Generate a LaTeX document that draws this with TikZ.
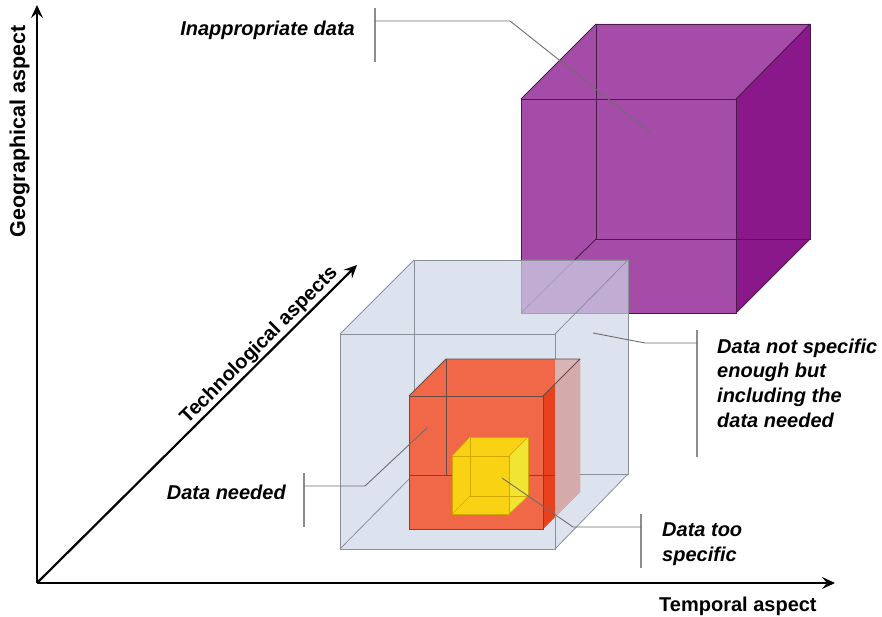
\documentclass[tikz,border=0pt]{standalone}
\usepackage{fontspec}
\setmainfont{Liberation Sans}
\usetikzlibrary{arrows.meta}
\definecolor{purpF}{HTML}{A54CA8}
\definecolor{purpS}{HTML}{8A188A}
\definecolor{purpE}{HTML}{4A1A4A}
\definecolor{blueF}{RGB}{205,215,231}
\definecolor{blueE}{HTML}{8A9098}
\definecolor{orF}{HTML}{F06848}
\definecolor{orS}{HTML}{E8411E}
\definecolor{orE}{HTML}{6A4A40}
\definecolor{yeF}{HTML}{FAD214}
\definecolor{yeS}{HTML}{F2E432}
\definecolor{yeE}{HTML}{D0A800}
\definecolor{calloutc}{HTML}{6E6E6E}
\definecolor{barc}{HTML}{8C8C8C}
\tikzset{
  axisline/.style={line width=2.2pt, -{Stealth[length=13pt,width=12pt,inset=5pt]}},
  lbl/.style={inner sep=0pt, font=\fontsize{20}{24.7}\selectfont\bfseries\itshape},
  axlbl/.style={inner sep=0pt, font=\fontsize{20}{24}\selectfont\bfseries},
  callout/.style={draw=calloutc, line width=0.9pt},
  calbar/.style={draw=barc, line width=1.4pt},
  pedge/.style={draw=purpE, line width=0.9pt},
  bedge/.style={draw=blueE, line width=0.8pt},
  oedge/.style={draw=orE, line width=0.8pt},
  yedge/.style={draw=yeE, line width=0.6pt},
}
\begin{document}
\begin{tikzpicture}[x=1pt,y=-1pt]
\useasboundingbox (0,0) rectangle (882,617);

% ---------- purple cube ----------
\coordinate (pfTL) at (521,99);  \coordinate (pfTR) at (736,99);
\coordinate (pfBR) at (736,313); \coordinate (pfBL) at (521,313);
\coordinate (pbTL) at (596,24);  \coordinate (pbTR) at (810,24);
\coordinate (pbBR) at (810,239); \coordinate (pbBL) at (596,239);
\fill[purpF] (pfTL) -- (pfTR) -- (pfBR) -- (pfBL) -- cycle;
\fill[purpF] (pfTL) -- (pbTL) -- (pbTR) -- (pfTR) -- cycle;
\fill[purpS] (pfTR) -- (pbTR) -- (pbBR) -- (pfBR) -- cycle;
\draw[pedge] (pfTL) -- (pfTR) -- (pfBR) -- (pfBL) -- cycle;
\draw[pedge] (pbTL) -- (pbTR) -- (pbBR) -- (pbBL) -- cycle;
\draw[pedge] (pfTL) -- (pbTL) (pfTR) -- (pbTR) (pfBR) -- (pbBR) (pfBL) -- (pbBL);

% ---------- light blue cube ----------
\coordinate (lfTL) at (340,334); \coordinate (lfTR) at (555,334);
\coordinate (lfBR) at (555,549); \coordinate (lfBL) at (340,549);
\coordinate (lbTL) at (414,260); \coordinate (lbTR) at (628,260);
\coordinate (lbBR) at (628,474); \coordinate (lbBL) at (414,474);
\fill[blueF, fill opacity=0.7] (lfBL) -- (lfTL) -- (lbTL) -- (lbTR) -- (lbBR) -- (lfBR) -- cycle;
\draw[bedge] (lfTL) -- (lfTR) -- (lfBR) -- (lfBL) -- cycle;
\draw[bedge] (lbTL) -- (lbTR) -- (lbBR) -- (lbBL) -- cycle;
\draw[bedge] (lfTL) -- (lbTL) (lfTR) -- (lbTR) (lfBR) -- (lbBR) (lfBL) -- (lbBL);

% ---------- orange cube ----------
\coordinate (ofTL) at (409,396); \coordinate (ofTR) at (543,396);
\coordinate (ofBR) at (543,529); \coordinate (ofBL) at (409,529);
\coordinate (obTL) at (446,359); \coordinate (obTR) at (580,359);
\coordinate (obBR) at (580,492); \coordinate (obBL) at (446,475);
\coordinate (ohL) at (409,475);  \coordinate (ohR) at (555,475);
\fill[orF] (ofTL) -- (ofTR) -- (ofBR) -- (ofBL) -- cycle;
\fill[orF] (ofTL) -- (obTL) -- (obTR) -- (ofTR) -- cycle;
\fill[orS] (ofTR) -- (obTR) -- (obBR) -- (ofBR) -- cycle;
\begin{scope}
  \clip (lfTR) -- (lbTR) -- (lbBR) -- (lfBR) -- cycle;
  \fill[blueF, fill opacity=0.7] (ofBL) -- (ofTL) -- (obTL) -- (obTR) -- (obBR) -- (ofBR) -- cycle;
\end{scope}
\draw[oedge] (ofTL) -- (ofTR) -- (ofBR) -- (ofBL) -- cycle;
\draw[oedge] (ofTL) -- (obTL) -- (obTR) (ofTR) -- (obTR);
\draw[oedge] (obTL) -- (obBL);
\draw[oedge] (ohL) -- (ohR);

% ---------- yellow cube ----------
\coordinate (yfTL) at (452,456); \coordinate (yfTR) at (509,456);
\coordinate (yfBR) at (509,514); \coordinate (yfBL) at (452,514);
\coordinate (ybTL) at (470,437); \coordinate (ybTR) at (528,437);
\coordinate (ybBR) at (528,496); \coordinate (ybBL) at (470,496);
\fill[yeF] (yfTL) -- (yfTR) -- (yfBR) -- (yfBL) -- cycle;
\fill[yeF] (yfTL) -- (ybTL) -- (ybTR) -- (yfTR) -- cycle;
\fill[yeS] (yfTR) -- (ybTR) -- (ybBR) -- (yfBR) -- cycle;
\draw[yedge] (yfTL) -- (yfTR) -- (yfBR) -- (yfBL) -- cycle;
\draw[yedge] (ybTL) -- (ybTR) -- (ybBR) -- (ybBL) -- cycle;
\draw[yedge] (yfTL) -- (ybTL) (yfTR) -- (ybTR) (yfBR) -- (ybBR) (yfBL) -- (ybBL);

% ---------- axes ----------
\coordinate (O) at (37,583);
\coordinate (Ytop) at (37,5);
\coordinate (Xend) at (835,583);
\coordinate (Ztip) at (357,265);
\draw[axisline] (O) -- (Ytop);
\draw[axisline] (O) -- (Xend);
\draw[axisline] (O) -- (Ztip);
\node[axlbl, anchor=base west] (temporal) at (659,611) {Temporal aspect};
\node[axlbl, font=\fontsize{21.5}{24}\selectfont\bfseries, rotate=90, anchor=base] (geo) at (25,131.5) {Geographical aspect};
\node[axlbl, rotate=45, anchor=south, inner sep=2pt] (tech) at (267.6,353.7) {Technological aspects};

% ---------- callouts ----------
\node[lbl, anchor=base east] (inap) at (355,36) {Inappropriate data};
\coordinate (b1t) at (375,8);  \coordinate (b1b) at (375,62);
\coordinate (b1m) at (375,21); \coordinate (b1k) at (510,21); \coordinate (b1e) at (651,133);
\draw[calbar] (b1t) -- (b1b);
\draw[callout] (b1m) -- (b1k) -- (b1e);

\node[lbl, anchor=north west, align=left] (notspec) at (717,338.5) {Data not specific\\enough but\\including the\\data needed};
\coordinate (b2t) at (697,330); \coordinate (b2b) at (697,457);
\coordinate (b2m) at (697,343); \coordinate (b2k) at (645,343); \coordinate (b2e) at (593,333);
\draw[calbar] (b2t) -- (b2b);
\draw[callout] (b2m) -- (b2k) -- (b2e);

\node[lbl, anchor=base east] (needed) at (286,499) {Data needed};
\coordinate (b3t) at (304,473); \coordinate (b3b) at (304,527);
\coordinate (b3m) at (304,486); \coordinate (b3k) at (365,486); \coordinate (b3e) at (427,428);
\draw[calbar] (b3t) -- (b3b);
\draw[callout] (b3m) -- (b3k) -- (b3e);

\node[lbl, anchor=north west, align=left] (toospec) at (662,522.4) {Data too\\specific};
\coordinate (b4t) at (641,514); \coordinate (b4b) at (641,568);
\coordinate (b4m) at (641,527); \coordinate (b4k) at (573,527); \coordinate (b4e) at (502,478);
\draw[calbar] (b4t) -- (b4b);
\draw[callout] (b4m) -- (b4k) -- (b4e);
\end{tikzpicture}
\end{document}
